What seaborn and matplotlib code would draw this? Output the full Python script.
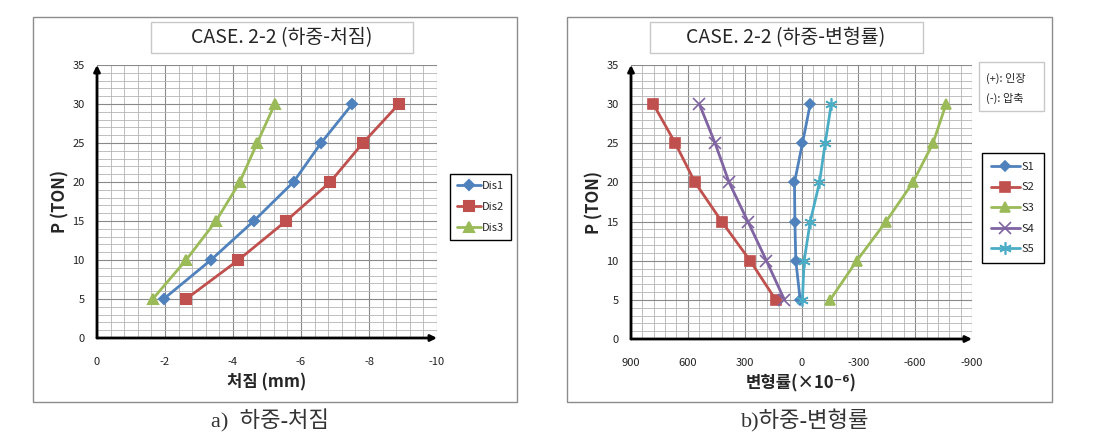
import numpy as np
import pandas as pd
import seaborn as sns
import matplotlib.pyplot as plt
from matplotlib.patches import Rectangle
from matplotlib.ticker import MultipleLocator

# load steps (TON)
load = [5, 10, 15, 20, 25, 30]

# deflection (mm)
dis1 = [-1.96, -3.35, -4.61, -5.78, -6.59, -7.51]
dis2 = [-2.62, -4.16, -5.56, -6.86, -7.82, -8.88]
dis3 = [-1.64, -2.62, -3.50, -4.20, -4.71, -5.23]

# strain (x10^-6)
s1 = [7, 30, 35, 37, -5, -46]
s2 = [136, 271, 421, 562, 666, 782]
s3 = [-151, -292, -446, -588, -694, -763]
s4 = [90, 185, 283, 382, 456, 539]
s5 = [-5, -14, -46, -95, -125, -157]

dis_names = ['Dis1', 'Dis2', 'Dis3']
s_names = ['S1', 'S2', 'S3', 'S4', 'S5']
x_ticks_left = [0, -2, -4, -6, -8, -10]
x_ticks_right = [900, 600, 300, 0, -300, -600, -900]
y_ticks = [0, 5, 10, 15, 20, 25, 30, 35]

sns.set_style('white')
plt.rcParams['font.family'] = ['Noto Sans CJK KR', 'DejaVu Sans']
plt.rcParams['axes.unicode_minus'] = False

W, H = 1114, 445
fig = plt.figure(figsize=(W / 100, H / 100), dpi=100)


def fx(px):
    return px / W


def fy(py):
    return 1 - py / H


colors = ['#4F81BD', '#C0504D', '#9BBB59', '#8064A2', '#4BACC6']
markers = ['D', 's', '^', 'x', (6, 2, 0)]
msizes = [5, 7.5, 7, 8, 9]

# panel frames and title boxes
for x0, x1 in [(33, 517), (567, 1052)]:
    fig.patches.append(Rectangle((fx(x0), fy(402)), fx(x1) - fx(x0), fy(17) - fy(402),
                                 transform=fig.transFigure, fill=False, ec='#8c8c8c', lw=1))
for x0, x1 in [(151, 413), (650, 923)]:
    fig.patches.append(Rectangle((fx(x0), fy(53)), fx(x1) - fx(x0), fy(22) - fy(53),
                                 transform=fig.transFigure, fill=False, ec='#c8c8c8', lw=1))
fig.text(fx(282), fy(38), 'CASE. 2-2 (하중-처짐)', ha='center', va='center', fontsize=14)
fig.text(fx(786), fy(38), 'CASE. 2-2 (하중-변형률)', ha='center', va='center', fontsize=14)

# note box
fig.patches.append(Rectangle((fx(979), fy(111)), fx(1044) - fx(979), fy(62) - fy(111),
                             transform=fig.transFigure, fill=False, ec='#c8c8c8', lw=1))
fig.text(fx(986), fy(78), '(+): 인장', ha='left', va='center', fontsize=8)
fig.text(fx(986), fy(98), '(-): 압축', ha='left', va='center', fontsize=8)


def setup(ax, xlim, xticks, xminor, xlabel):
    ax.set_xlim(*xlim)
    ax.set_ylim(0, 35)
    ax.set_xticks(xticks)
    ax.set_xticklabels([str(t) for t in xticks])
    ax.set_yticks(y_ticks)
    ax.xaxis.set_minor_locator(MultipleLocator(xminor))
    ax.yaxis.set_minor_locator(MultipleLocator(1))
    ax.grid(which='major', color='#8a8a8a', lw=0.8)
    ax.grid(which='minor', color='#b4b4b4', lw=0.6)
    ax.set_axisbelow(True)
    for sp in ax.spines.values():
        sp.set_visible(False)
    ax.tick_params(which='both', length=0, labelsize=8, colors='#222222')
    ax.tick_params(axis='x', pad=14)
    ax.tick_params(axis='y', pad=9)
    ax.set_xlabel(xlabel, fontsize=12, fontweight='bold', labelpad=4)
    ax.set_ylabel('P (TON)', fontsize=12, fontweight='bold', labelpad=2)
    ax.annotate('', xy=(0, 1.0), xytext=(0, 0), xycoords='axes fraction',
                arrowprops=dict(arrowstyle='-|>', lw=2, color='black', mutation_scale=9,
                                shrinkA=0, shrinkB=0), annotation_clip=False)
    ax.annotate('', xy=(1.0, 0), xytext=(0, 0), xycoords='axes fraction',
                arrowprops=dict(arrowstyle='-|>', lw=2, color='black', mutation_scale=9,
                                shrinkA=0, shrinkB=0), annotation_clip=False)


# left: load-deflection
axL = fig.add_axes([fx(97), fy(338), fx(437) - fx(97), fy(65) - fy(338)])
for i, (name, vals) in enumerate(zip(dis_names, [dis1, dis2, dis3])):
    df = pd.DataFrame({'x': vals, 'P': load})
    sns.lineplot(data=df, x='x', y='P', ax=axL, sort=False, color=colors[i], lw=2,
                 marker=markers[i], markersize=msizes[i], mec=colors[i], mew=1.5, label=name)
setup(axL, (0, -10), x_ticks_left, 0.4, '처짐 (mm)')
h, l = axL.get_legend_handles_labels()
axL.get_legend().remove()
fig.legend(h, l, loc='upper left', bbox_to_anchor=(fx(450), fy(174)), bbox_transform=fig.transFigure,
           frameon=True, fancybox=False, edgecolor='black', framealpha=1, fontsize=8,
           handlelength=2.2, borderaxespad=0, borderpad=0.6, labelspacing=1.0, handletextpad=0.1)

# right: load-strain
axR = fig.add_axes([fx(631), fy(339), fx(972) - fx(631), fy(65) - fy(339)])
for i, (name, vals) in enumerate(zip(s_names, [s1, s2, s3, s4, s5])):
    df = pd.DataFrame({'x': vals, 'P': load})
    sns.lineplot(data=df, x='x', y='P', ax=axR, sort=False, color=colors[i], lw=2,
                 marker=markers[i], markersize=msizes[i], mec=colors[i], mew=1.2, label=name)
setup(axR, (900, -900), x_ticks_right, 60, '변형률(×10⁻⁶)')
h, l = axR.get_legend_handles_labels()
axR.get_legend().remove()
fig.legend(h, l, loc='upper left', bbox_to_anchor=(fx(982), fy(153)), bbox_transform=fig.transFigure,
           frameon=True, fancybox=False, edgecolor='black', framealpha=1, fontsize=8,
           handlelength=2.6, borderaxespad=0, borderpad=0.8, labelspacing=0.95, handletextpad=0.2)

# captions
fig.text(fx(270), fy(421), 'a)  하중-처짐', ha='center', va='center', fontsize=16, color='#333333',
         family=['Liberation Serif', 'Noto Sans CJK KR'])
fig.text(fx(805), fy(421), 'b)하중-변형률', ha='center', va='center', fontsize=16, color='#333333',
         family=['Liberation Serif', 'Noto Sans CJK KR'])

fig.savefig('out.png', dpi=100)
